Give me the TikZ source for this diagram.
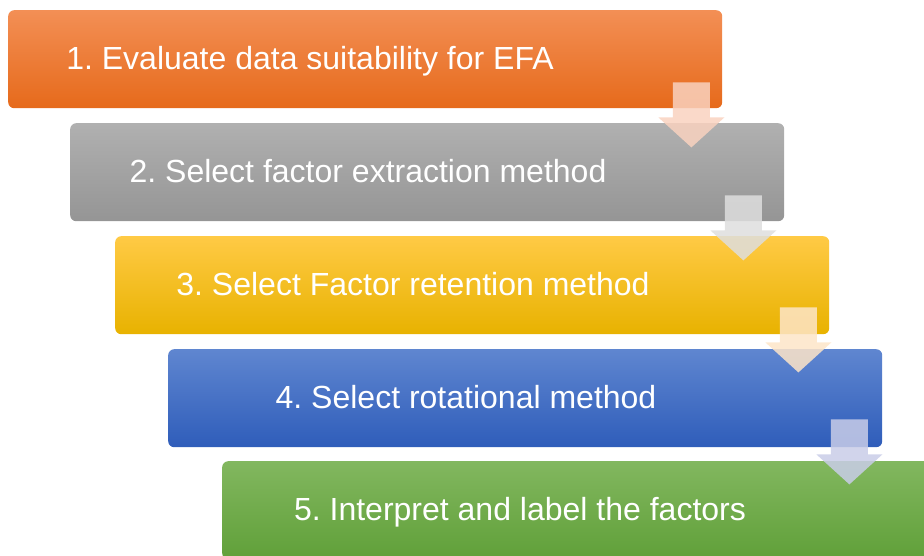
\documentclass[tikz,border=0pt]{standalone}
\usepackage{fontspec}
\setmainfont{Liberation Sans}
\usetikzlibrary{calc}
\frenchspacing

% step colours: top / middle / bottom of each gradient, plus arrow tints
\definecolor{oTop}{HTML}{F38F55}\definecolor{oMid}{HTML}{EF7A2E}\definecolor{oBot}{HTML}{E66A1B}
\definecolor{gTop}{HTML}{B0B0B0}\definecolor{gMid}{HTML}{A5A5A5}\definecolor{gBot}{HTML}{959595}
\definecolor{yTop}{HTML}{FFCA45}\definecolor{yMid}{HTML}{FFC000}\definecolor{yBot}{HTML}{E8B200}
\definecolor{bTop}{HTML}{5F86D0}\definecolor{bMid}{HTML}{4472C4}\definecolor{bBot}{HTML}{2F5DBA}
\definecolor{vTop}{HTML}{82B75F}\definecolor{vMid}{HTML}{70AD47}\definecolor{vBot}{HTML}{60A039}
\definecolor{aOrange}{HTML}{F9D2BF}
\definecolor{aGray}{HTML}{DEDEDE}
\definecolor{aPeach}{HTML}{FDE5C8}
\definecolor{aLilac}{HTML}{C9CDE8}

\tikzset{
  stepbox/.style n args={3}{rounded corners=6pt, minimum width=714pt, minimum height=98pt,
    anchor=north west, inner sep=0pt, top color=#1, middle color=#2, bottom color=#3},
  steptext/.style={text=white, anchor=base, inner sep=0pt,
    font=\fontsize{32}{38}\selectfont},
  pics/downarrow/.style={code={
    \fill[#1, fill opacity=0.85] (-18.5,0) -- (18.5,0) -- (18.5,35) -- (33,35)
      -- (0,65) -- (-33,35) -- (-18.5,35) -- cycle;}}
}

\begin{document}
\begin{tikzpicture}[x=1pt, y=-1pt]
  \useasboundingbox (0,0) rectangle (924,555);
  \clip (0,0) rectangle (924,555);

  % the five step boxes
  \node[stepbox={oTop}{oMid}{oBot}] (b1) at (8,10) {};
  \node[stepbox={gTop}{gMid}{gBot}] (b2) at (70,123) {};
  \node[stepbox={yTop}{yMid}{yBot}] (b3) at (115,236) {};
  \node[stepbox={bTop}{bMid}{bBot}] (b4) at (168,349) {};
  \node[stepbox={vTop}{vMid}{vBot}] (b5) at (222,461) {};

  % step labels
  \node[steptext] (t1) at ($(b1.north west)+(302,59)$) {1. Evaluate data suitability for EFA};
  \node[steptext] (t2) at ($(b2.north west)+(298,59)$) {2. Select factor extraction method};
  \node[steptext] (t3) at ($(b3.north west)+(298,59)$) {3. Select Factor retention method};
  \node[steptext] (t4) at ($(b4.north west)+(298,59)$) {4. Select rotational method};
  \node[steptext] (t5) at ($(b5.north west)+(298,59)$) {5. Interpret and label the factors};

  % block arrows leading from one step down to the next
  \coordinate (a1) at ($(b1.south east)+(-31,-26)$);
  \coordinate (a2) at ($(b2.south east)+(-41,-26)$);
  \coordinate (a3) at ($(b3.south east)+(-31,-27)$);
  \coordinate (a4) at ($(b4.south east)+(-33,-28)$);
  \pic at (a1) {downarrow=aOrange};
  \pic at (a2) {downarrow=aGray};
  \pic at (a3) {downarrow=aPeach};
  \pic at (a4) {downarrow=aLilac};
\end{tikzpicture}
\end{document}
